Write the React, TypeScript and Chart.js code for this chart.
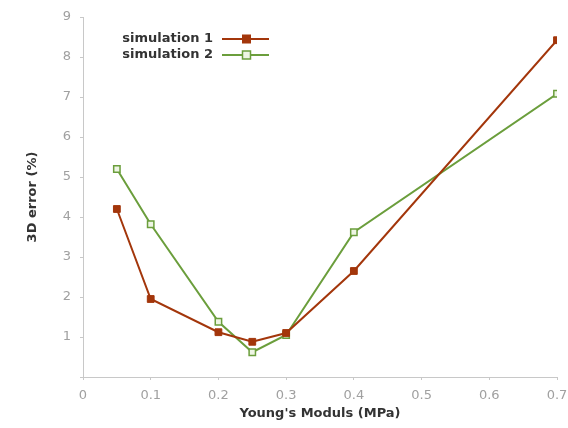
import React, { useEffect, useRef } from "react";
import { Chart, registerables } from "chart.js";

Chart.register(...registerables);

const youngsModulus = [0.05, 0.1, 0.2, 0.25, 0.3, 0.4, 0.7];
const simulation1 = [4.2, 1.95, 1.12, 0.88, 1.1, 2.65, 8.42];
const simulation2 = [5.2, 3.82, 1.38, 0.62, 1.05, 3.62, 7.08];
const seriesNames = ["simulation 1", "simulation 2"];
const xTitle = "Young's Moduls (MPa)";
const yTitle = "3D error (%)";

const C1 = "#a3360b";
const C2 = "#6b9e3c";
const FONT = "'DejaVu Sans', sans-serif";

const legendPlugin = {
  id: "customLegend",
  afterDraw(chart: any) {
    const ctx = chart.ctx;
    const items = [
      { name: seriesNames[0], color: C1, fill: C1 },
      { name: seriesNames[1], color: C2, fill: "#eef5e4" },
    ];
    ctx.save();
    ctx.font = "bold 13px " + FONT;
    ctx.textAlign = "right";
    ctx.textBaseline = "middle";
    items.forEach((it, i) => {
      const y = 39 + i * 16;
      ctx.fillStyle = "#333";
      ctx.fillText(it.name, 213, y);
      ctx.strokeStyle = it.color;
      ctx.lineWidth = 2;
      ctx.beginPath();
      ctx.moveTo(222, y);
      ctx.lineTo(269, y);
      ctx.stroke();
      ctx.fillStyle = it.fill;
      if (i === 0) {
        ctx.fillRect(242, y - 4.5, 9, 9);
      } else {
        ctx.fillRect(242.5, y - 4, 8, 8);
        ctx.lineWidth = 1.5;
        ctx.strokeRect(242.5, y - 4, 8, 8);
      }
    });
    ctx.restore();
  },
};

export default function App() {
  const ref = useRef<HTMLCanvasElement>(null);
  useEffect(() => {
    document.body.style.margin = "0";
    const chart = new Chart(ref.current!, {
      type: "line",
      data: {
        datasets: [
          {
            label: seriesNames[0],
            data: youngsModulus.map((x, i) => ({ x, y: simulation1[i] })),
            borderColor: C1,
            backgroundColor: C1,
            borderWidth: 2,
            pointStyle: "rect",
            pointRadius: 4.8,
            pointBorderWidth: 1,
          },
          {
            label: seriesNames[1],
            data: youngsModulus.map((x, i) => ({ x, y: simulation2[i] })),
            borderColor: C2,
            backgroundColor: "#eef5e4",
            borderWidth: 2,
            pointStyle: "rect",
            pointRadius: 4.5,
            pointBorderWidth: 1.5,
          },
        ],
      },
      options: {
        animation: false,
        responsive: false,
        layout: { padding: { top: 17, right: 11, left: 25, bottom: 7 } },
        plugins: { legend: { display: false }, tooltip: { enabled: false } },
        scales: {
          x: {
            type: "linear",
            min: 0,
            max: 0.7,
            afterFit(s: any) {
              s.height = 44;
              s.paddingLeft = 0;
              s.paddingRight = 0;
            },
            ticks: {
              stepSize: 0.1,
              color: "#a0a0a0",
              font: { family: FONT, size: 13 },
              padding: 8,
              callback: (v: any) => (v === 0 ? "0" : Number(v).toFixed(1)),
            },
            grid: { drawOnChartArea: false, drawTicks: true, tickLength: 3, color: "#c8c8c8" },
            border: { display: true, color: "#c8c8c8", width: 1 },
            title: {
              display: true,
              text: xTitle,
              color: "#333",
              font: { family: FONT, size: 13, weight: "bold" },
              padding: { top: 0, bottom: 0 },
            },
          },
          y: {
            type: "linear",
            min: 0,
            max: 9,
            afterFit(s: any) {
              s.width = 58;
              s.paddingTop = 0;
              s.paddingBottom = 0;
            },
            ticks: {
              stepSize: 1,
              color: "#a0a0a0",
              font: { family: FONT, size: 13 },
              padding: 9,
              callback: (v: any) => (v === 0 ? "" : String(v)),
            },
            grid: { drawOnChartArea: false, drawTicks: true, tickLength: 3, color: "#c8c8c8" },
            border: { display: true, color: "#c8c8c8", width: 1 },
            title: {
              display: true,
              text: yTitle,
              color: "#333",
              font: { family: FONT, size: 13, weight: "bold" },
              padding: { top: 0, bottom: 0 },
            },
          },
        },
      },
      plugins: [legendPlugin],
    });
    return () => chart.destroy();
  }, []);
  return (
    <div style={{ width: 568, height: 428, background: "#fff" }}>
      <canvas ref={ref} width={568} height={428} />
    </div>
  );
}
